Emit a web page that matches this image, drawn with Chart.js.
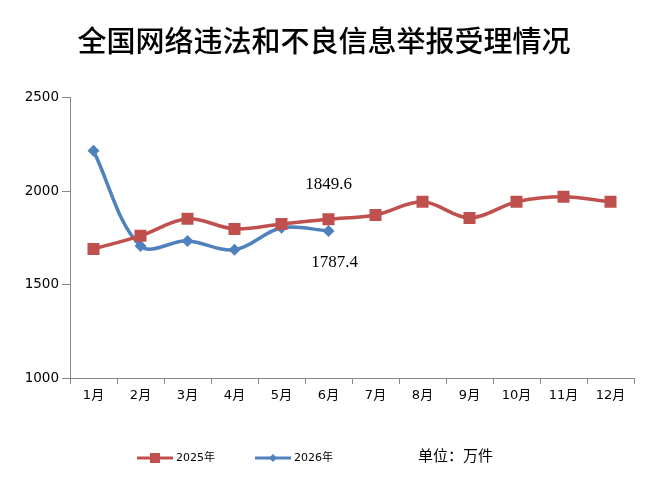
<!DOCTYPE html>
<html>
<head>
<meta charset="utf-8">
<script src="https://cdn.jsdelivr.net/npm/chart.js@4"></script>
<style>
  html, body { margin: 0; padding: 0; background: #fff; }
  #wrap { width: 658px; height: 484px; }
</style>
</head>
<body>
<div id="wrap"><canvas id="chart" width="658" height="484"></canvas></div>
<script>
const months = ['1月', '2月', '3月', '4月', '5月', '6月', '7月', '8月', '9月', '10月', '11月', '12月'];
const values2025 = [1691, 1761, 1852, 1798, 1825, 1849.6, 1873, 1943, 1857, 1943, 1970, 1943];
const values2026 = [2216, 1707, 1734, 1686, 1804, 1787.4];
const yTicks = [1000, 1500, 2000, 2500];
const seriesNames = ['2025年', '2026年'];
const unitText = '单位：万件';
const titleText = '全国网络违法和不良信息举报受理情况';

const RED = '#C0504D';
const BLUE = '#4F81BD';
const AXIS = '#868686';

// labels for the last 2026 month and the matching 2025 month
const callouts = {
    id: 'callouts',
    afterDatasetsDraw(chart) {
        const ctx = chart.ctx;
        const idx = values2026.length - 1;
        const p25 = chart.getDatasetMeta(0).data[idx];
        const p26 = chart.getDatasetMeta(1).data[idx];
        ctx.save();
        ctx.fillStyle = '#000';
        ctx.font = '17px "Liberation Serif", serif';
        ctx.textAlign = 'center';
        ctx.textBaseline = 'middle';
        ctx.fillText(String(values2025[idx]), p25.x, p25.y - 35);
        ctx.fillText(String(values2026[idx]), p26.x + 6, p26.y + 32);
        ctx.restore();
    }
};

// excel style legend (line through marker) plus unit note
const bottomLegend = {
    id: 'bottomLegend',
    afterDraw(chart) {
        const ctx = chart.ctx;
        const y = 458;
        const items = [
            { x: 137, color: RED, style: 'rect', name: seriesNames[0] },
            { x: 255, color: BLUE, style: 'rectRot', name: seriesNames[1] }
        ];
        ctx.save();
        items.forEach(it => {
            ctx.strokeStyle = it.color;
            ctx.lineWidth = 3;
            ctx.beginPath();
            ctx.moveTo(it.x, y);
            ctx.lineTo(it.x + 36, y);
            ctx.stroke();
            ctx.fillStyle = it.color;
            const cx = it.x + 18;
            if (it.style === 'rect') {
                ctx.fillRect(cx - 5, y - 5, 10, 10);
            } else {
                ctx.beginPath();
                ctx.moveTo(cx - 4, y);
                ctx.lineTo(cx, y - 4);
                ctx.lineTo(cx + 4, y);
                ctx.lineTo(cx, y + 4);
                ctx.closePath();
                ctx.fill();
            }
            ctx.fillStyle = '#000';
            ctx.font = '11px "DejaVu Sans", "Noto Sans CJK SC", sans-serif';
            ctx.textAlign = 'left';
            ctx.textBaseline = 'middle';
            ctx.fillText(it.name, it.x + 39, y);
        });
        ctx.font = '15px "Noto Sans CJK SC", sans-serif';
        ctx.textBaseline = 'middle';
        ctx.fillText(unitText, 418, 455);
        ctx.restore();
    }
};

const ctx = document.getElementById('chart').getContext('2d');
new Chart(ctx, {
    type: 'line',
    data: {
        labels: months,
        datasets: [
            {
                label: seriesNames[0],
                data: values2025,
                borderColor: RED,
                backgroundColor: RED,
                borderWidth: 3.5,
                pointStyle: 'rect',
                pointRadius: 8.5,
                pointHoverRadius: 8.5,
                pointBorderWidth: 0,
                tension: 0.35
            },
            {
                label: seriesNames[1],
                data: values2026,
                borderColor: BLUE,
                backgroundColor: BLUE,
                borderWidth: 3.5,
                pointStyle: 'rectRot',
                pointRadius: 6,
                pointHoverRadius: 6,
                pointBorderWidth: 0,
                tension: 0.35
            }
        ]
    },
    options: {
        responsive: false,
        animation: false,
        events: [],
        layout: { padding: { left: 14, right: 24, top: 0, bottom: 0 } },
        plugins: {
            legend: { display: false },
            tooltip: { enabled: false },
            title: {
                display: true,
                text: titleText,
                color: '#000',
                font: { family: '"Noto Sans CJK SC", sans-serif', size: 29, weight: 500 },
                padding: { top: 24, bottom: 39 }
            }
        },
        scales: {
            x: {
                offset: true,
                grid: { offset: true, drawOnChartArea: false, drawTicks: true, tickLength: 6, color: AXIS },
                border: { color: AXIS, width: 1 },
                ticks: {
                    color: '#000',
                    padding: 4,
                    maxRotation: 0,
                    font: { family: '"DejaVu Sans", "Noto Sans CJK SC", sans-serif', size: 13 }
                },
                afterFit(scale) { scale.height = 106; }
            },
            y: {
                min: yTicks[0],
                max: yTicks[yTicks.length - 1],
                afterBuildTicks(scale) { scale.ticks = yTicks.map(v => ({ value: v })); },
                grid: { drawOnChartArea: false, drawTicks: true, tickLength: 8, color: AXIS },
                border: { color: AXIS, width: 1 },
                ticks: {
                    color: '#000',
                    padding: 3,
                    font: { family: '"DejaVu Sans", sans-serif', size: 13.5 },
                    callback: v => String(v)
                },
                afterFit(scale) { scale.width = 56; }
            }
        }
    },
    plugins: [callouts, bottomLegend]
});
</script>
</body>
</html>
